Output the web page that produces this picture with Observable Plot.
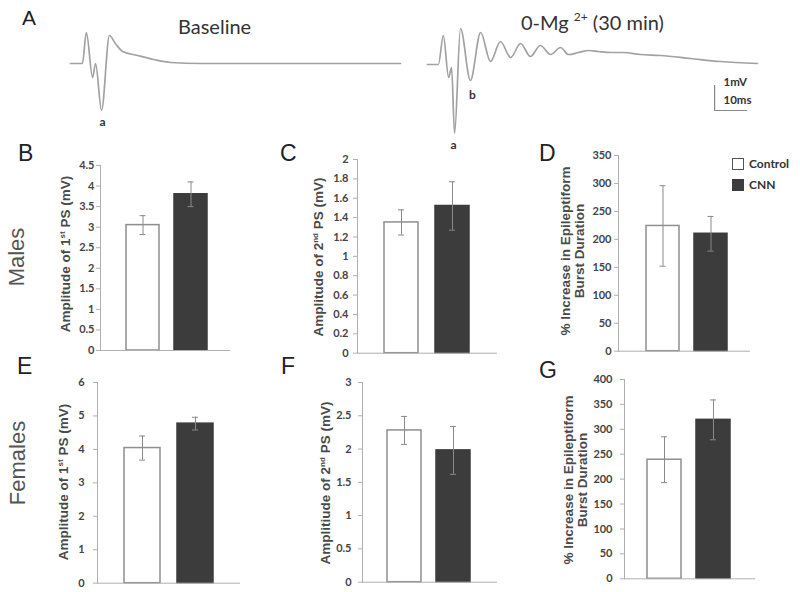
<!DOCTYPE html>
<html>
<head>
<meta charset="utf-8">
<script src="https://cdn.jsdelivr.net/npm/d3@7"></script>
<script src="https://cdn.jsdelivr.net/npm/@observablehq/plot@0.6"></script>
<style>
  body { margin: 0; background: #fff; }
  #fig { position: relative; width: 800px; height: 592px; overflow: hidden; background: #fff;
         font-family: "Liberation Sans", Arial, sans-serif; color: #333; }
  .abs { position: absolute; }
  .letter { position: absolute; font-size: 23px; line-height: 1; color: #222; }
  .ttl { position: absolute; font-family: Lato, "Open Sans", sans-serif; font-size: 20px; line-height: 1; color: #333; white-space: nowrap; }
  .ttl sup { font-size: 12px; vertical-align: 9px; }
  .vt { position: absolute; transform: translate(-50%, -50%) rotate(-90deg); white-space: nowrap; text-align: center; }
  .sex { font-size: 22px; color: #555; }
  .ylab { font-size: 13.5px; line-height: 14px; color: #4a4a4a; font-weight: bold; }
  .ylab sup { font-size: 8px; vertical-align: 5px; line-height: 0; }
  .leg { position: absolute; font-family: Lato, sans-serif; font-weight: bold; font-size: 12px; color: #333; }
  .leg .row { display: flex; align-items: center; height: 21px; }
  .leg .sw { width: 12px; height: 12px; margin-right: 5px; box-sizing: border-box; }
</style>
</head>
<body>
<div id="fig"></div>
<script>
// ---------------- data ----------------
const groups = ["Control", "CNN"];

// Males
const malesPS1Mean = [3.05, 3.80];
const malesPS1Sem = [0.23, 0.30];
const malesPS2Mean = [1.35, 1.52];
const malesPS2Sem = [0.13, 0.25];
const malesBurstMean = [224, 210];
const malesBurstSem = [72, 31];
// Females
const femalesPS1Mean = [4.04, 4.77];
const femalesPS1Sem = [0.36, 0.19];
const femalesPS2Mean = [2.28, 1.98];
const femalesPS2Sem = [0.21, 0.36];
const femalesBurstMean = [239, 319];
const femalesBurstSem = [46, 40];

// y-axis tick labels
const ticksB = [0, 0.5, 1, 1.5, 2, 2.5, 3, 3.5, 4, 4.5];
const ticksC = [0, 0.2, 0.4, 0.6, 0.8, 1, 1.2, 1.4, 1.6, 1.8, 2];
const ticksD = [0, 50, 100, 150, 200, 250, 300, 350];
const ticksE = [0, 1, 2, 3, 4, 5, 6];
const ticksF = [0, 0.5, 1, 1.5, 2, 2.5, 3];
const ticksG = [0, 50, 100, 150, 200, 250, 300, 350, 400];

// Field potential traces (time in ms, voltage in mV)
const baselineTime = [0, 3.6, 4.8, 6.7, 7.6, 9.4, 11.8, 13.6, 15.8, 20.3, 25.2, 30.3, 39.4, 100];
const baselineVolt = [0, 0, 1.24, -0.56, 0, -1.88, 1.12, 0.8, 0.48, 0.32, 0.16, 0.04, 0, 0];
const zeroMgTime = [0, 3.3, 4.8, 6.4, 7.3, 8.2, 10.0, 13.0, 16.1, 19.1, 22.1, 25.2, 28.2, 31.2, 34.2, 37.3, 40.3, 42.7, 45.8, 48.8, 51.8, 55.5, 59.1, 64.5, 70.6, 79.7, 88.8, 100];
const zeroMgVolt = [0, 0, 1.16, -0.52, -0.12, -2.76, 1.44, -0.64, 1.28, 0.12, 0.92, 0.28, 0.84, 0.32, 0.76, 0.40, 0.68, 0.40, 0.48, 0.56, 0.52, 0.48, 0.48, 0.40, 0.36, 0.24, 0.12, 0.04];
// peak labels
const baselinePeakLabels = [{t: 9.7, v: -2.36, label: "a"}];
const zeroMgPeakLabels = [{t: 7.9, v: -3.24, label: "a"}, {t: 13.6, v: -1.24, label: "b"}];
// scale bar: 1 mV, 10 ms
const scaleBar = {t: 87, v: -0.84, ms: 10, mV: 1};
const scaleBarLabels = [{t: 89.7, v: -0.72, label: "1mV"}, {t: 89.7, v: -1.44, label: "10ms"}];

// ---------------- layout ----------------
const fig = document.getElementById("fig");
function place(el, left, top) {
  const d = document.createElement("div");
  d.className = "abs";
  d.style.left = left + "px";
  d.style.top = top + "px";
  d.appendChild(el);
  fig.appendChild(d);
}
function html(cls, text, styles) {
  const d = document.createElement("div");
  d.className = cls;
  d.innerHTML = text;
  Object.assign(d.style, styles);
  fig.appendChild(d);
  return d;
}

// ---- Panel A traces ----
const traceColor = "#a2a2a2";
function tracePlot(times, volts, labels, extra) {
  const pts = times.map((t, i) => ({t, v: volts[i]}));
  return Plot.plot({
    width: 330, height: 150,
    marginLeft: 0, marginRight: 0, marginTop: 0, marginBottom: 0,
    style: {background: "transparent", overflow: "visible"},
    x: {domain: [0, 100], axis: null},
    y: {domain: [-3.44, 2.56], axis: null},
    marks: [
      Plot.line(pts, {x: "t", y: "v", stroke: traceColor, strokeWidth: 1.7, curve: "monotone-x"}),
      Plot.text(labels, {x: "t", y: "v", text: "label", fontSize: 12, fontWeight: "bold",
                         fill: "#333", fontFamily: "Lato, sans-serif"}),
      ...(extra || [])
    ]
  });
}
place(tracePlot(baselineTime, baselineVolt, baselinePeakLabels), 70, -1);
const sb = scaleBar;
place(tracePlot(zeroMgTime, zeroMgVolt, zeroMgPeakLabels, [
  Plot.ruleX([sb], {x: "t", y1: d => d.v, y2: d => d.v - d.mV, stroke: "#888", strokeWidth: 1.2}),
  Plot.ruleY([sb], {y: d => d.v - d.mV, x1: "t", x2: d => d.t + d.ms, stroke: "#888", strokeWidth: 1.2}),
  Plot.text(scaleBarLabels, {x: "t", y: "v", text: "label", textAnchor: "start", fontSize: 11.5,
                             fontWeight: "bold", fill: "#333", fontFamily: "Lato, sans-serif"})
]), 427, 0);

html("ttl", "Baseline", {left: "178px", top: "16px"});
html("ttl", "0-Mg <sup>2+</sup> (30 min)", {left: "521px", top: "11px"});

// ---- bar panels ----
function barPanel(cfg, means, sems, ticks) {
  const data = groups.map((g, i) => ({group: g, mean: means[i], lo: means[i] - sems[i], hi: means[i] + sems[i]}));
  const mL = 40, mT = 8, mR = 6, mB = 6;
  const left = cfg.ax - mL, top = cfg.yTop - mT;
  const width = cfg.xEnd - cfg.ax + mL + mR;
  const height = cfg.yBot - cfg.yTop + mT + mB;
  const step = (cfg.barR - cfg.barL) - cfg.bw;
  const pi = 1 - cfg.bw / step;
  const inset = (cfg.bw - 6) / 2;
  const plot = Plot.plot({
    width, height, marginLeft: mL, marginTop: mT, marginRight: mR, marginBottom: mB,
    style: {background: "transparent", overflow: "visible"},
    x: {type: "band", domain: groups, range: [cfg.barL - left, cfg.barR - left],
        paddingInner: pi, paddingOuter: 0, align: 0.5, axis: null},
    y: {domain: [0, ticks[ticks.length - 1]], axis: null},
    marks: [
      Plot.barY(data, {x: "group", y: "mean",
        fill: d => d.group === "CNN" ? "#3c3c3c" : "#ffffff",
        stroke: d => d.group === "CNN" ? "#3c3c3c" : "#8f8f8f", strokeWidth: 1.5}),
      Plot.ruleX(data, {x: "group", y1: "lo", y2: "hi", stroke: "#8a8a8a", strokeWidth: 1}),
      Plot.tickY(data, {x: "group", y: "hi", stroke: "#8a8a8a", insetLeft: inset, insetRight: inset}),
      Plot.tickY(data, {x: "group", y: "lo", stroke: "#8a8a8a", insetLeft: inset, insetRight: inset}),
      Plot.ruleY([0], {stroke: "#b0b0b0", strokeWidth: 1}),
      Plot.frame({anchor: "left", stroke: "#b0b0b0"}),
      Plot.axisY(ticks, {tickSize: 4, tickPadding: cfg.pad, stroke: "#b0b0b0", fill: "#444",
        fontSize: 11, fontWeight: "bold", fontFamily: "Lato, sans-serif",
        tickFormat: d => String(+d.toFixed(2)), label: null})
    ]
  });
  place(plot, left, top);
}

barPanel({ax: 100, yTop: 165, yBot: 350, xEnd: 230, barL: 126, barR: 207, bw: 33, pad: 2}, malesPS1Mean, malesPS1Sem, ticksB);
barPanel({ax: 357, yTop: 159, yBot: 352.7, xEnd: 497, barL: 384, barR: 469, bw: 34, pad: 5}, malesPS2Mean, malesPS2Sem, ticksC);
barPanel({ax: 618, yTop: 155, yBot: 350.7, xEnd: 750, barL: 646, barR: 727, bw: 33, pad: 3}, malesBurstMean, malesBurstSem, ticksD);
barPanel({ax: 97, yTop: 382, yBot: 582.7, xEnd: 240, barL: 124, barR: 213, bw: 36, pad: 9}, femalesPS1Mean, femalesPS1Sem, ticksE);
barPanel({ax: 362, yTop: 382, yBot: 581.7, xEnd: 497, barL: 387, barR: 470, bw: 34, pad: 7}, femalesPS2Mean, femalesPS2Sem, ticksF);
barPanel({ax: 624, yTop: 379, yBot: 578.3, xEnd: 755, barL: 647, barR: 730, bw: 34, pad: 8}, femalesBurstMean, femalesBurstSem, ticksG);

// ---- panel letters ----
html("letter", "A", {left: "22px", top: "7px", fontSize: "21px"});
html("letter", "B", {left: "18px", top: "142px"});
html("letter", "C", {left: "280px", top: "142px"});
html("letter", "D", {left: "539px", top: "142px"});
html("letter", "E", {left: "17px", top: "355px"});
html("letter", "F", {left: "281px", top: "355px"});
html("letter", "G", {left: "539px", top: "359px"});

// ---- row labels ----
html("vt sex", "Males", {left: "17px", top: "257px"});
html("vt sex", "Females", {left: "18px", top: "463px"});

// ---- y-axis titles ----
html("vt ylab", "Amplitude of 1<sup>st</sup> PS (mV)", {left: "66px", top: "254px"});
html("vt ylab", "Amplitude of 2<sup>nd</sup> PS (mV)", {left: "319px", top: "257px"});
html("vt ylab", "% Increase in Epileptiform<br>Burst Duration", {left: "573px", top: "251px"});
html("vt ylab", "Amplitude of 1<sup>st</sup> PS (mV)", {left: "64px", top: "482px"});
html("vt ylab", "Amplitiude of 2<sup>nd</sup> PS (mV)", {left: "326px", top: "483px"});
html("vt ylab", "% Increase in Epileptiform<br>Burst Duration", {left: "576px", top: "480px"});

// ---- legend ----
const leg = html("leg", "", {left: "732px", top: "153px"});
leg.innerHTML =
  '<div class="row"><div class="sw" style="background:#fff;border:1.5px solid #555"></div>' + groups[0] + '</div>' +
  '<div class="row"><div class="sw" style="background:#3c3c3c;border:1.5px solid #3c3c3c"></div>' + groups[1] + '</div>';
</script>
</body>
</html>
